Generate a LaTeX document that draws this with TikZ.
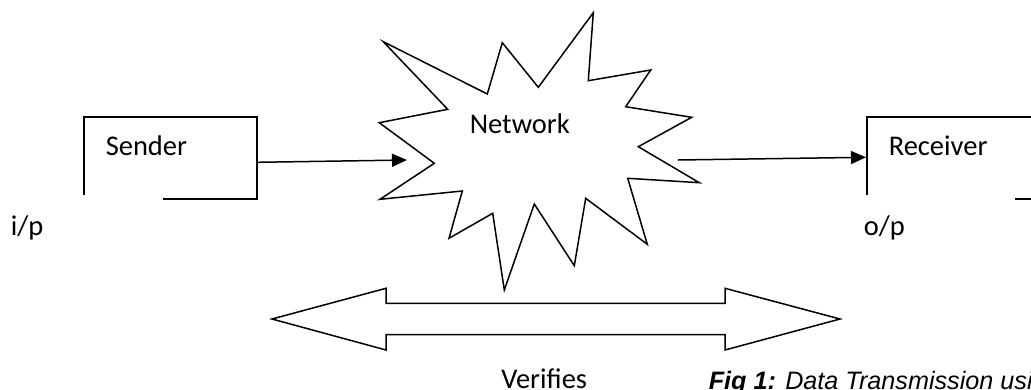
\documentclass[tikz,border=0pt]{standalone}
\usepackage{fontspec}
\setmainfont{Carlito}
\newfontfamily\capfont{Liberation Sans}
\usetikzlibrary{arrows.meta}

\begin{document}
\begin{tikzpicture}[x=1pt,y=-1pt,line width=1.5pt,line join=miter,>={Triangle[length=15pt,width=13pt]},font=\fontsize{28.5}{34}\selectfont]
\tikzset{lbl/.style={inner sep=0pt,anchor=base west}}
\useasboundingbox (0,0) rectangle (1031,389);
\clip (0,0) rectangle (1031,389);
% sender box
\draw (84,195) -- (84,117) -- (257,117) -- (257,199) -- (163,199);
\node[lbl] (sender) at (105,155.5) {Sender};
\node[lbl] (ip) at (10,235) {i/p};
% network cloud
\draw (383.3,41.7) -- (487.3,94) -- (502.3,42.7) -- (538.3,87.3) -- (593.3,12.7) -- (588.3,80.7)
  -- (650.7,70) -- (625.7,106.7) -- (691.7,117.3) -- (638.3,146.7) -- (699.3,182.7) -- (627.7,178.3)
  -- (647.3,244.3) -- (585.7,198.3) -- (574.3,265.7) -- (534.3,204) -- (504.3,290) -- (492.7,213.3)
  -- (449,238.3) -- (462.3,191) -- (380,199.3) -- (434.3,163.3) -- (379.3,122.7) -- (447.7,109.3) -- cycle;
\node[lbl] (network) at (469,133.3) {Network};
% receiver box
\draw (867,195) -- (867,117) -- (1040,117) -- (1040,199) -- (1015,199);
\node[lbl] (receiver) at (888,155) {Receiver};
\node[lbl] (op) at (863,235.5) {o/p};
% connectors
\coordinate (sendR) at (257,162.3);
\coordinate (netL) at (407,160);
\coordinate (netR) at (678,160);
\coordinate (recvL) at (866,157.3);
\draw[->] (sendR) -- (netL);
\draw[->] (netR) -- (recvL);
% verifies arrow
\draw (272,319) -- (386,288.3) -- (386,303.3) -- (725,303.3) -- (725,288.3) -- (840,319)
  -- (725,350) -- (725,334.7) -- (386,334.7) -- (386,350) -- cycle;
\node[lbl] (verifies) at (500.5,388) {Verifies};
\node[lbl,font=\capfont\fontsize{25.2}{30}\selectfont\itshape] (caption) at (708,389.5)
  {\textbf{Fig 1:} Data Transmission using};
\end{tikzpicture}
\end{document}
